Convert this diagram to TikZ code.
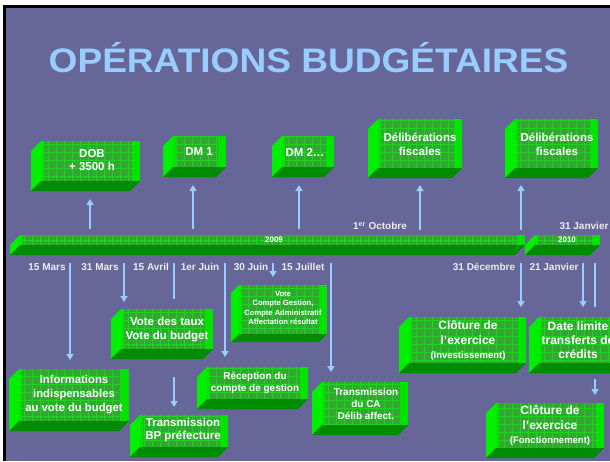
\documentclass[tikz,border=0pt]{standalone}
\usepackage{fontspec}
\setmainfont{Liberation Sans}
\usetikzlibrary{arrows.meta}
\definecolor{bg}{RGB}{102,102,153}
\definecolor{ttl}{RGB}{153,204,255}
\definecolor{gfront}{RGB}{0,228,0}
\definecolor{gside}{RGB}{0,240,0}
\definecolor{gdark}{RGB}{0,140,0}
\definecolor{gtex}{RGB}{50,168,50}
\definecolor{ggrid}{RGB}{30,210,30}
\definecolor{lbl}{RGB}{236,236,236}
\tikzset{
  arr/.style={draw=ttl, line width=2pt, -{Triangle[length=6pt,width=7pt]}},
  plainline/.style={draw=ttl, line width=2pt},
  boxtxt/.style={text=white, align=center, inner sep=0pt, font=\bfseries},
  datelbl/.style={text=lbl, inner sep=0pt, font=\fontsize{10}{12}\selectfont\bfseries},
}
% name, L, T, R, B, depth
\newcommand\cuboid[6]{%
  \pgfmathsetmacro\cbL{#2}\pgfmathsetmacro\cbT{#3}%
  \pgfmathsetmacro\cbR{#4}\pgfmathsetmacro\cbB{#5}\pgfmathsetmacro\cbD{#6}%
  \pgfmathsetmacro\cbFL{\cbL+\cbD}\pgfmathsetmacro\cbFB{\cbB-\cbD}%
  \pgfmathsetmacro\cbXL{\cbFL+3}\pgfmathsetmacro\cbXR{\cbR-8}%
  \pgfmathsetmacro\cbRR{\cbR-\cbD}%
  \pgfmathsetmacro\cbW{\cbR-\cbL}\pgfmathsetmacro\cbH{\cbB-\cbT}%
  \fill[gfront] (\cbFL,\cbT) rectangle (\cbR,\cbFB);
  \fill[gtex] (\cbXL,\cbT) rectangle (\cbXR,\cbFB);
  \begin{scope}
    \clip (\cbXL,\cbT) rectangle (\cbXR,\cbFB);
    \draw[ggrid, line width=0.7pt, step=8pt] (\cbXL,\cbT) grid (\cbXR,\cbFB);
  \end{scope}
  \fill[gside] (\cbL,\cbT+\cbD) -- (\cbFL,\cbT) -- (\cbFL,\cbFB) -- (\cbL,\cbB) -- cycle;
  \fill[gdark] (\cbL,\cbB) -- (\cbFL,\cbFB) -- (\cbR,\cbFB) -- (\cbRR,\cbB) -- cycle;
  \node[inner sep=0pt, outer sep=0pt, minimum width=\cbW pt, minimum height=\cbH pt, anchor=north west] (#1) at (\cbL,\cbT) {};
}
\begin{document}
\begin{tikzpicture}[x=1pt,y=-1pt]
\useasboundingbox (0,0) rectangle (610,461);
\clip (0,0) rectangle (610,461);
\fill[white] (0,0) rectangle (610,461);
\fill[black] (3,5) rectangle (610,461);
\fill[bg] (5.5,7.5) rectangle (610,461);

\node[font=\fontsize{34}{34}\selectfont\bfseries, text=ttl, xscale=1.09, anchor=base, inner sep=0pt] (title) at (308.5,72) {OPÉRATIONS BUDGÉTAIRES};

% timeline bars
\cuboid{bar09}{10}{235}{525}{255}{10}
\cuboid{bar10}{525}{235}{600}{255}{10}
\node[boxtxt, font=\fontsize{8}{9}\selectfont\bfseries] (y09) at (274,240) {2009};
\node[boxtxt, font=\fontsize{8}{9}\selectfont\bfseries] (y10) at (567,240) {2010};

% boxes
\cuboid{dob}{31}{141}{140}{191}{10}
\node[boxtxt, font=\fontsize{11.5}{13}\selectfont\bfseries] (dobt) at (92,160) {DOB\\+ 3500 h};
\cuboid{dm1}{163}{136}{226}{177}{10}
\node[boxtxt, font=\fontsize{11.5}{13}\selectfont\bfseries] (dm1t) at (199,152) {DM 1};
\cuboid{dm2}{272}{136}{334}{177}{10}
\node[boxtxt, font=\fontsize{11.5}{13}\selectfont\bfseries] (dm2t) at (305,152) {DM 2…};
\cuboid{delA}{368}{119}{462}{178}{10}
\node[boxtxt, font=\fontsize{11.5}{14}\selectfont\bfseries] (delAt) at (420,144) {Délibérations\\fiscales};
\cuboid{delB}{505}{119}{598}{178}{10}
\node[boxtxt, font=\fontsize{11.5}{14}\selectfont\bfseries] (delBt) at (557,144) {Délibérations\\fiscales};

\cuboid{vote}{231}{285}{327}{342}{8}
\node[boxtxt, font=\fontsize{7.6}{9.3}\selectfont\bfseries] (votet) at (283,308) {Vote\\Compte Gestion,\\Compte Administratif\\Affectation résultat};
\cuboid{taux}{111}{309}{213}{359}{10}
\node[boxtxt, font=\fontsize{11.5}{14}\selectfont\bfseries] (tauxt) at (167,330) {Vote des taux\\Vote du budget};
\cuboid{info}{9}{369}{129}{431}{10}
\node[boxtxt, font=\fontsize{11.3}{14}\selectfont\bfseries] (infot) at (74,395) {Informations\\indispensables\\au vote du budget};
\cuboid{tbp}{130}{415}{228}{457}{10}
\node[boxtxt, font=\fontsize{11.5}{13}\selectfont\bfseries] (tbpt) at (183,430.5) {Transmission\\BP préfecture};
\cuboid{recep}{197}{367}{308}{409}{10}
\node[boxtxt, font=\fontsize{10}{12}\selectfont\bfseries] (recept) at (255,383) {Réception du\\compte de gestion};
\cuboid{tca}{312}{382}{408}{435}{10}
\node[boxtxt, font=\fontsize{10}{12}\selectfont\bfseries] (tcat) at (366,404) {Transmission\\du CA\\Délib affect.};
\cuboid{cinv}{399}{317}{526}{373}{10}
\node[boxtxt, font=\fontsize{12}{14.5}\selectfont\bfseries] (cinvt) at (468,340.5) {Clôture de\\l’exercice\\{\fontsize{9.5}{12}\selectfont (Investissement)}};
\cuboid{dlim}{529}{317}{640}{373}{10}
\node[boxtxt, font=\fontsize{12}{14}\selectfont\bfseries] (dlimt) at (578,340) {Date limite\\transferts de\\crédits};
\cuboid{cfon}{486}{403}{604}{458}{10}
\node[boxtxt, font=\fontsize{12}{14.5}\selectfont\bfseries] (cfont) at (550,425.5) {Clôture de\\l’exercice\\{\fontsize{9.5}{12}\selectfont (Fonctionnement)}};

% date labels
\node[datelbl] (l1) at (47,267) {15 Mars};
\node[datelbl] (l2) at (100,267) {31 Mars};
\node[datelbl] (l3) at (151,267) {15 Avril};
\node[datelbl] (l4) at (200,267) {1er Juin};
\node[datelbl] (l5) at (251,267) {30 Juin};
\node[datelbl] (l6) at (303,267) {15 Juillet};
\node[datelbl] (l7) at (484,267) {31 Décembre};
\node[datelbl] (l8) at (554,267) {21 Janvier};
\node[datelbl] (l9) at (380,226) {1\textsuperscript{er} Octobre};
\node[datelbl] (l10) at (584,226) {31 Janvier};

% up arrows
\coordinate (u1) at (90,229);
\coordinate (u2) at (193,229);
\coordinate (u3) at (299,229);
\coordinate (u4) at (420,230);
\coordinate (u5) at (521,230);
\draw[arr, shorten >=8pt] (u1) -- (u1 |- dob.south);
\draw[arr, shorten >=8pt] (u2) -- (u2 |- dm1.south);
\draw[arr, shorten >=8pt] (u3) -- (u3 |- dm2.south);
\draw[arr, shorten >=7pt] (u4) -- (u4 |- delA.south);
\draw[arr, shorten >=7pt] (u5) -- (u5 |- delB.south);

% down arrows
\coordinate (d1) at (70,263);
\coordinate (d2) at (124,263);
\coordinate (d3) at (174,263);
\coordinate (e3) at (174,299);
\coordinate (d4) at (174,377);
\coordinate (d5) at (225,263);
\coordinate (d6) at (273,263);
\coordinate (d7) at (331,263);
\coordinate (d8) at (521,263);
\coordinate (d9) at (583,263);
\coordinate (d10) at (595,263);
\coordinate (e10) at (595,307);
\coordinate (d11) at (595,379);
\draw[arr, shorten >=9pt] (d1) -- (d1 |- info.north);
\draw[arr, shorten >=7pt] (d2) -- (d2 |- taux.north);
\draw[plainline] (d3) -- (e3);
\draw[arr, shorten >=8pt] (d4) -- (d4 |- tbp.north);
\draw[arr, shorten >=10pt] (d5) -- (d5 |- recep.north);
\draw[arr, shorten >=8pt] (d6) -- (d6 |- vote.north);
\draw[arr, shorten >=10pt] (d7) -- (d7 |- tca.north);
\draw[arr, shorten >=10pt] (d8) -- (d8 |- cinv.north);
\draw[arr, shorten >=10pt] (d9) -- (d9 |- dlim.north);
\draw[plainline] (d10) -- (e10);
\draw[arr, shorten >=8pt] (d11) -- (d11 |- cfon.north);
\end{tikzpicture}
\end{document}
